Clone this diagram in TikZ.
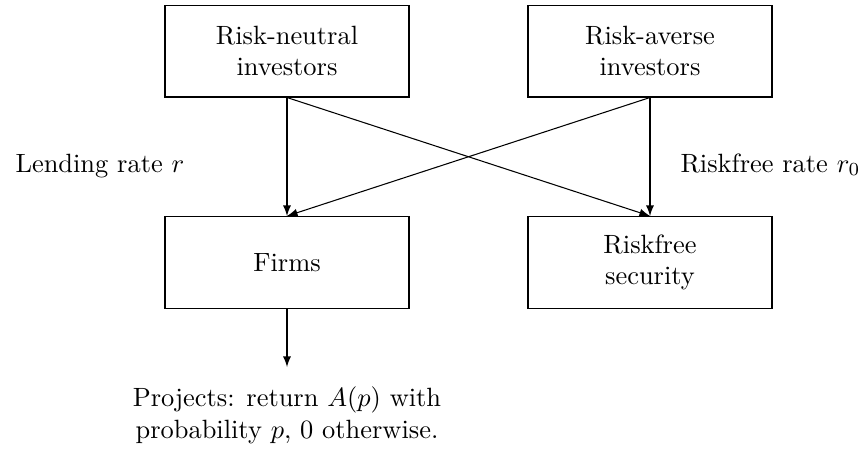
\documentclass[tikz,border=0pt]{standalone}
\usetikzlibrary{arrows}
\begin{document}
\begin{tikzpicture}[x=0.3785pt,y=-0.3785pt,
  box/.style={draw,line width=0.4pt,minimum width=92.35pt,minimum height=34.8pt,align=center,inner sep=0pt},
  lbl/.style={inner sep=0pt,anchor=base west},
  arr/.style={-latex,line width=0.4pt}]
\useasboundingbox (0,0) rectangle (866,450);
\node[box] (rn) at (287,51) {Risk-neutral\\investors};
\node[box] (ra) at (650,51) {Risk-averse\\investors};
\node[box] (firms) at (287,262.5) {Firms};
\node[box] (rf) at (650,262.5) {Riskfree\\security};
\node[inner sep=0pt,align=center] (proj) at (287,415) {Projects: return $A(p)$ with\\probability $p$, 0 otherwise.};
\node[lbl] (lr) at (15,172) {Lending rate $r$};
\node[lbl] (rr) at (680,172) {Riskfree rate $r_0$};
\coordinate (pt) at (287,367);
\draw[arr] (rn.south) -- (firms.north);
\draw[arr] (rn.south) -- (rf.north);
\draw[arr] (ra.south) -- (rf.north);
\draw[arr] (ra.south) -- (firms.north);
\draw[arr] (firms.south) -- (pt);
\end{tikzpicture}
\end{document}
